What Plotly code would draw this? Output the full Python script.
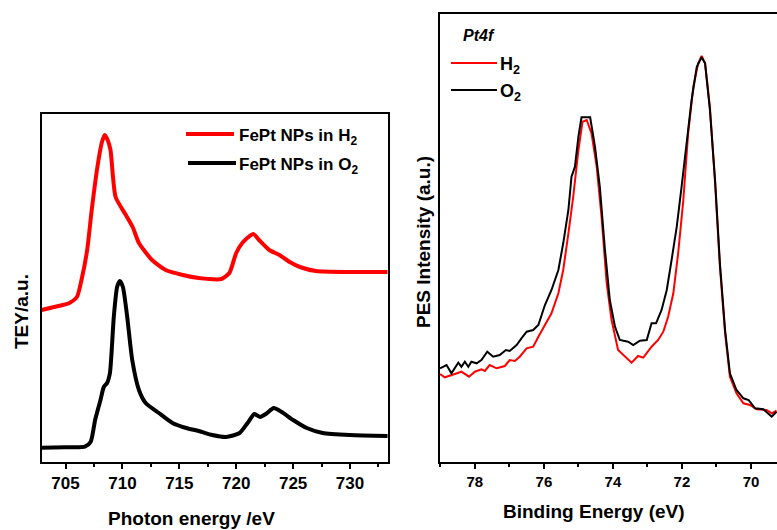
import plotly.graph_objects as go

# ---------------- data: left panel (Fe L-edge XAS) ----------------
xas_h2_x = [702.9, 704.0, 705.3, 706.0, 706.4, 706.9, 707.3, 707.8, 708.2, 708.45, 708.7, 708.95,
            709.4, 710.3, 710.9, 711.45, 712.6, 713.8, 715.3, 716.7, 718.7, 719.4, 720.0, 720.6,
            721.5, 722.0, 722.9, 723.8, 724.7, 725.6, 727.0, 730.0, 733.3]
xas_h2_y = [152, 155, 158.7, 165, 182, 212, 252, 295, 320, 327, 322, 312,
            265, 247, 235, 219, 202, 192, 187, 184, 183, 189, 209, 220,
            228, 222, 212, 207, 200, 195, 191, 190, 190]

xas_o2_x = [702.9, 705.0, 706.7, 707.2, 707.6, 708.07, 708.36, 708.65, 708.9, 709.24, 709.53, 709.77,
            710.04, 710.42, 710.86, 711.45, 712.04, 713.2, 714.4, 715.6, 716.7, 717.9, 719.1, 720.3,
            721.0, 721.6, 722.1, 722.6, 723.3, 724.0, 725.0, 726.2, 727.6, 730.0, 733.3]
xas_o2_y = [14.3, 14.8, 15.3, 20, 42, 62, 75, 79, 89, 145, 175, 181,
            175, 145, 102, 72, 59, 49, 39, 34, 31, 27, 25, 29,
            39, 48, 45, 48, 54, 50, 42, 34, 29, 27, 26]

xas_ticks = [705, 710, 715, 720, 725, 730]

# ---------------- data: right panel (Pt4f XPS) ----------------
pes_h2_x = [79.01, 78.87, 78.58, 78.39, 78.17, 78.0, 77.81, 77.71, 77.57, 77.37, 77.13, 76.99,
            76.84, 76.70, 76.50, 76.31, 76.16, 75.97, 75.78, 75.58, 75.44, 75.29, 75.15, 75.00,
            74.88, 74.76, 74.62, 74.47, 74.33, 74.18, 74.04, 73.85, 73.65, 73.46, 73.27, 73.12,
            72.88, 72.69, 72.54, 72.40, 72.25, 72.11, 71.96, 71.82, 71.67, 71.53, 71.43, 71.33,
            71.19, 71.04, 70.90, 70.75, 70.61, 70.42, 70.22, 70.03, 69.84, 69.55, 69.40, 69.26]
pes_h2_y = [88, 84.7, 88, 90.3, 85.3, 90.3, 92.7, 91, 97, 93.7, 96, 102,
            101, 105.3, 113.7, 115.3, 125.3, 137, 148.7, 168.7, 192, 228.7, 265.3, 312,
            340.3, 342, 328.7, 295.3, 245.3, 178.7, 142, 112, 105.3, 99.3, 106, 104.3,
            115.3, 122, 130.3, 145.3, 168.7, 208.7, 262, 328.7, 375.3, 398.7, 406, 398.7,
            355.3, 278.7, 195.3, 128.7, 85.3, 68.7, 58.7, 57, 52.7, 52, 48.7, 51.3]

pes_o2_x = [79.01, 78.82, 78.68, 78.48, 78.39, 78.29, 78.19, 78.10, 77.95, 77.81, 77.64, 77.47,
            77.28, 77.10, 76.99, 76.79, 76.65, 76.50, 76.31, 76.16, 75.97, 75.78, 75.58, 75.44,
            75.29, 75.20, 75.10, 75.00, 74.91, 74.66, 74.52, 74.38, 74.23, 74.09, 73.94, 73.80,
            73.56, 73.41, 73.22, 73.02, 72.88, 72.75, 72.59, 72.44, 72.30, 72.15, 72.01, 71.86,
            71.72, 71.57, 71.43, 71.33, 71.19, 71.04, 70.90, 70.75, 70.61, 70.42, 70.22, 70.07,
            69.88, 69.64, 69.40, 69.26]
pes_o2_y = [93.7, 97, 88.7, 99.3, 95.3, 100.3, 95.3, 100.3, 98.7, 102, 110.3, 105.3,
            107, 112, 111, 117, 123.7, 130.3, 132, 137, 157, 172, 192, 218.7,
            252, 285.3, 295.3, 325.3, 344.7, 344.7, 315.3, 275.3, 212, 162, 135.3, 122,
            120.3, 117, 121.3, 122, 138.7, 138.7, 152, 172, 202, 235.3, 275.3, 322,
            362, 395.3, 404.7, 398.7, 352, 282, 198.7, 132, 88.7, 72, 63.7, 62,
            53.7, 52.7, 45.3, 50.3]

pes_ticks = [78, 76, 74, 72, 70]

RED = "#ff0000"
BLACK = "#000000"
FONT = "Liberation Sans, Arial, sans-serif"
W, H = 777, 530


def px(x):
    return x / W


def py(y):
    return 1 - y / H


fig = go.Figure()
fig.add_trace(go.Scatter(x=xas_h2_x, y=xas_h2_y, mode="lines", name="FePt NPs in H2",
                         line=dict(color=RED, width=4, shape="spline", smoothing=0.6),
                         xaxis="x", yaxis="y", showlegend=False))
fig.add_trace(go.Scatter(x=xas_o2_x, y=xas_o2_y, mode="lines", name="FePt NPs in O2",
                         line=dict(color=BLACK, width=4, shape="spline", smoothing=0.6),
                         xaxis="x", yaxis="y", showlegend=False))
fig.add_trace(go.Scatter(x=pes_h2_x, y=pes_h2_y, mode="lines", name="H2",
                         line=dict(color=RED, width=2),
                         xaxis="x2", yaxis="y2", showlegend=False))
fig.add_trace(go.Scatter(x=pes_o2_x, y=pes_o2_y, mode="lines", name="O2",
                         line=dict(color=BLACK, width=2),
                         xaxis="x2", yaxis="y2", showlegend=False))

axis_common = dict(showgrid=False, zeroline=False, showline=True, linecolor=BLACK,
                   linewidth=2, automargin=False)

fig.update_layout(
    width=W, height=H,
    margin=dict(l=0, r=0, t=0, b=0),
    paper_bgcolor="white", plot_bgcolor="white",
    font=dict(family=FONT, color=BLACK, size=16),
    xaxis=dict(**axis_common, domain=[px(42), px(388)], range=[702.93, 733.34],
               mirror=True, ticks="outside", ticklen=5, tickwidth=2, tickcolor=BLACK,
               tickvals=xas_ticks, ticktext=[str(t) for t in xas_ticks],
               minor=dict(ticks="outside", ticklen=3, tickwidth=2, tickcolor=BLACK,
                          tickvals=[707.5, 712.5, 717.5, 722.5, 727.5, 732.5]),
               tickfont=dict(family=FONT, size=17, weight="bold"), anchor="y"),
    yaxis=dict(**axis_common, domain=[py(462), py(114)], range=[0, 348],
               mirror=True, ticks="", showticklabels=False, anchor="x"),
    xaxis2=dict(**axis_common, domain=[px(440), 1.0], range=[79.01, 69.246],
                mirror=True, ticks="outside", ticklen=5, tickwidth=2, tickcolor=BLACK,
                tickvals=pes_ticks, ticktext=[str(t) for t in pes_ticks],
                minor=dict(ticks="outside", ticklen=3, tickwidth=2, tickcolor=BLACK,
                           tickvals=[79, 77, 75, 73, 71, 69]),
                tickfont=dict(family=FONT, size=15, weight="bold"), anchor="y2"),
    yaxis2=dict(**axis_common, domain=[py(462), py(14)], range=[0, 448],
                mirror=False, ticks="", showticklabels=False, anchor="x2"),
)

bold = dict(family=FONT, color=BLACK, weight="bold")
annotations = [
    dict(text="Photon energy /eV", x=px(191), y=py(518), font=dict(**bold, size=19)),
    dict(text="TEY/a.u.", x=px(21), y=py(312), textangle=-90, font=dict(**bold, size=19)),
    dict(text="Binding Energy (eV)", x=px(594), y=py(511), font=dict(**bold, size=19)),
    dict(text="PES Intensity (a.u.)", x=px(423), y=py(242), textangle=-90, font=dict(**bold, size=19)),
    dict(text="<i>Pt4f</i>", x=px(461), y=py(36), xanchor="left", font=dict(**bold, size=16)),
    dict(text="FePt NPs in H<sub>2</sub>", x=px(237), y=py(137), xanchor="left", font=dict(**bold, size=17)),
    dict(text="FePt NPs in O<sub>2</sub>", x=px(237), y=py(166), xanchor="left", font=dict(**bold, size=17)),
    dict(text="H<sub>2</sub>", x=px(498), y=py(66), xanchor="left", font=dict(**bold, size=18)),
    dict(text="O<sub>2</sub>", x=px(498), y=py(93), xanchor="left", font=dict(**bold, size=18)),
]
for a in annotations:
    a.setdefault("xanchor", "center")
    fig.add_annotation(xref="paper", yref="paper", yanchor="middle", showarrow=False, **a)

# legend line samples
samples = [
    (186, 234, 134, RED, 4), (188, 236, 163, BLACK, 4),
    (451, 497, 63, RED, 2), (451, 497, 90, BLACK, 2),
]
for x0, x1, yy, c, w in samples:
    fig.add_shape(type="line", xref="paper", yref="paper",
                  x0=px(x0), x1=px(x1), y0=py(yy), y1=py(yy),
                  line=dict(color=c, width=w))

fig.write_html(
    "out.html",
    config={"displayModeBar": False},
    post_script="document.body.style.margin='0';document.body.style.overflow='hidden';",
)
